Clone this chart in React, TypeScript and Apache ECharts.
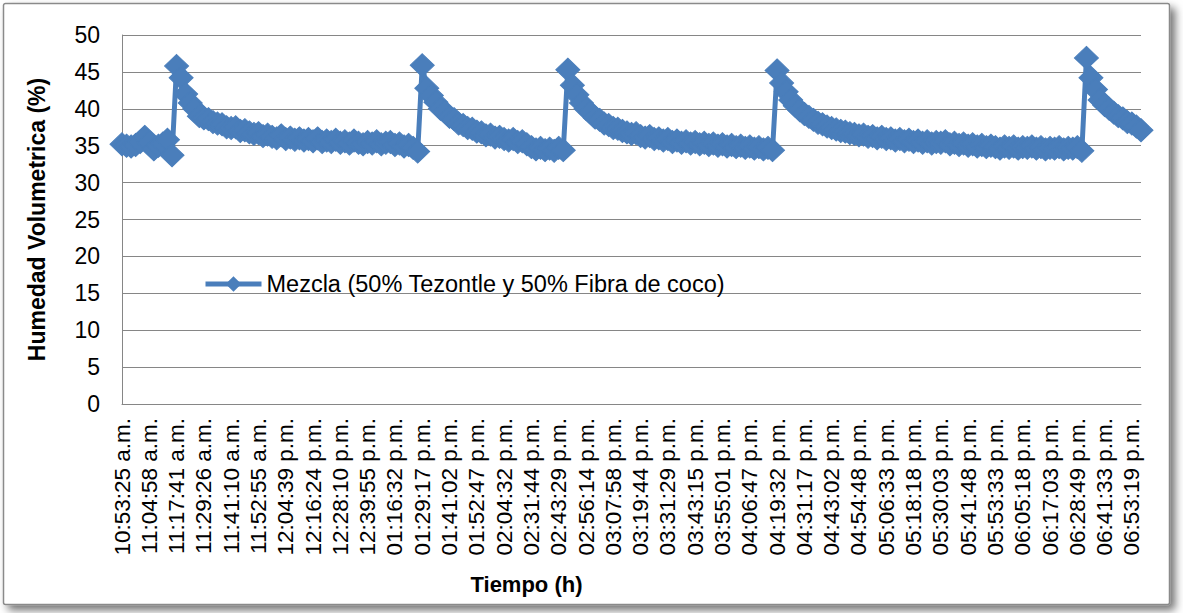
import React, { useEffect, useRef } from 'react';
import * as echarts from 'echarts';

const timeLabels = [
  '10:53:25 a.m.', '11:04:58 a.m.', '11:17:41 a.m.', '11:29:26 a.m.', '11:41:10 a.m.',
  '11:52:55 a.m.', '12:04:39 p.m.', '12:16:24 p.m.', '12:28:10 p.m.', '12:39:55 p.m.',
  '01:16:32 p.m.', '01:29:17 p.m.', '01:41:02 p.m.', '01:52:47 p.m.', '02:04:32 p.m.',
  '02:31:44 p.m.', '02:43:29 p.m.', '02:56:14 p.m.', '03:07:58 p.m.', '03:19:44 p.m.',
  '03:31:29 p.m.', '03:43:15 p.m.', '03:55:01 p.m.', '04:06:47 p.m.', '04:19:32 p.m.',
  '04:31:17 p.m.', '04:43:02 p.m.', '04:54:48 p.m.', '05:06:33 p.m.', '05:18:18 p.m.',
  '05:30:03 p.m.', '05:41:48 p.m.', '05:53:33 p.m.', '06:05:18 p.m.', '06:17:03 p.m.',
  '06:28:49 p.m.', '06:41:33 p.m.', '06:53:19 p.m.',
];

// one reading every sixth of a label step
const samplesPerLabel = 6;

const humedad = [
  35.2, 35.0, 34.9, 35.1, 35.5, 36.2, 35.4, 34.5, 35.0, 35.3, 35.8, 33.7,
  45.8, 44.2, 42.0, 40.8, 40.0, 39.0, 38.7, 38.6, 38.2, 38.0,
  37.9, 37.5, 37.4, 37.5, 37.0, 37.1, 36.8, 36.6, 36.7, 36.3,
  36.5, 36.2, 36.0, 36.4, 35.9, 36.1, 35.8, 36.0, 35.7, 35.9,
  35.6, 36.0, 35.5, 35.7, 35.5, 35.8, 35.4, 35.6, 35.3, 35.7,
  35.4, 35.2, 35.5, 35.3, 35.6, 35.2, 35.4, 35.5, 35.1, 35.3,
  34.9, 35.1, 34.7, 34.2,
  45.9, 42.8, 41.8, 40.9, 40.0, 39.6, 38.9, 38.6, 38.0, 37.8,
  37.4, 37.3, 36.9, 36.8, 36.4, 36.5, 36.1, 36.2, 35.9, 35.7,
  35.9, 35.5, 35.6, 35.2, 34.8, 34.5, 34.7, 34.4, 34.6, 34.3,
  34.7, 34.4,
  45.3, 43.2, 41.9, 40.8, 40.0, 39.5, 38.8, 38.5, 38.0, 37.8,
  37.4, 37.3, 37.0, 36.8, 36.6, 36.7, 36.3, 36.1, 36.3, 35.9,
  36.0, 35.7, 35.9, 35.5, 35.7, 35.4, 35.6, 35.3, 35.5, 35.2,
  35.4, 35.1, 35.3, 35.0, 35.2, 34.9, 35.1, 34.8, 35.0, 34.7,
  34.9, 34.6, 34.8, 34.5, 34.7, 34.4,
  45.2, 43.5, 42.3, 41.2, 40.4, 39.8, 39.3, 38.9, 38.5, 38.1,
  37.9, 37.6, 37.4, 37.2, 37.0, 36.9, 36.7, 36.6, 36.4, 36.5,
  36.2, 36.3, 36.0, 36.2, 35.9, 36.0, 35.7, 35.9, 35.6, 35.8,
  35.5, 35.7, 35.4, 35.6, 35.3, 35.5, 35.4, 35.6, 35.2, 35.4,
  35.1, 35.3, 35.0, 35.2, 34.9, 35.1, 34.8, 35.0, 34.8, 34.6,
  34.9, 34.7, 34.9, 34.6, 34.8, 34.7, 34.9, 34.6, 34.8, 34.5,
  34.7, 34.6, 34.8, 34.5, 34.7, 34.6, 34.8, 34.3,
  46.9, 44.2, 42.6, 41.2, 40.5, 40.0, 39.5, 39.0, 38.7, 38.2,
  38.0, 37.6, 37.1,
];

const seriesName = 'Mezcla (50% Tezontle y 50% Fibra de coco)';
const yAxisTitle = 'Humedad Volumetrica (%)';
const xAxisTitle = 'Tiempo (h)';

const FONT = '"Liberation Sans", Arial, sans-serif';
const BLUE = '#4A7EBB';
const GRAY = '#868686';

export default function App() {
  const ref = useRef<HTMLDivElement>(null);

  useEffect(() => {
    if (!ref.current) return;
    const chart = echarts.init(ref.current, null, { renderer: 'svg' });
    const categories = humedad.map((_, i) =>
      i % samplesPerLabel === 0 ? timeLabels[i / samplesPerLabel] ?? '' : ''
    );

    chart.setOption({
      animation: false,
      backgroundColor: '#ffffff',
      textStyle: { fontFamily: FONT },
      graphic: [
        {
          type: 'rect',
          z: -100,
          silent: true,
          shape: { x: 3.5, y: 3.5, width: 1166, height: 601, r: 2 },
          style: {
            fill: '#ffffff',
            stroke: '#8a8a8a',
            lineWidth: 1.5,
            shadowBlur: 8,
            shadowOffsetX: 5,
            shadowOffsetY: 5,
            shadowColor: 'rgba(0,0,0,0.55)',
          },
        },
      ],
      grid: { left: 122, right: 42, top: 35, bottom: 209, containLabel: false },
      legend: {
        left: 203,
        top: 272,
        padding: 0,
        itemWidth: 56,
        itemHeight: 16,
        itemGap: 4,
        lineStyle: { width: 5 },
        textStyle: { fontSize: 23.5, color: '#000', fontFamily: FONT },
        data: [seriesName],
      },
      xAxis: {
        type: 'category',
        data: categories,
        boundaryGap: false,
        name: xAxisTitle,
        nameLocation: 'middle',
        nameGap: 169,
        nameTextStyle: {
          fontSize: 22,
          fontWeight: 'bold',
          color: '#000',
          fontFamily: FONT,
          padding: [0, 210, 0, 0],
        },
        axisLine: { show: true, lineStyle: { color: GRAY, width: 1 } },
        axisTick: { show: false },
        splitLine: { show: false },
        axisLabel: {
          interval: samplesPerLabel - 1,
          rotate: 90,
          margin: 14,
          fontSize: 22.5,
          color: '#000',
          fontFamily: FONT,
        },
      },
      yAxis: {
        type: 'value',
        min: 0,
        max: 50,
        interval: 5,
        name: yAxisTitle,
        nameLocation: 'middle',
        nameGap: 74,
        nameTextStyle: { fontSize: 23, fontWeight: 'bold', color: '#000', fontFamily: FONT },
        axisLine: { show: true, lineStyle: { color: GRAY, width: 1 } },
        axisTick: { show: false },
        splitLine: { show: true, lineStyle: { color: GRAY, width: 1 } },
        axisLabel: { margin: 22, fontSize: 23, color: '#000', fontFamily: FONT },
      },
      series: [
        {
          type: 'line',
          name: seriesName,
          data: humedad,
          symbol: 'diamond',
          symbolSize: [24, 23],
          showAllSymbol: true,
          lineStyle: { color: BLUE, width: 5 },
          itemStyle: { color: BLUE, borderColor: BLUE, borderWidth: 1 },
        },
      ],
    });

    return () => chart.dispose();
  }, []);

  return (
    <div
      ref={ref}
      style={{ position: 'absolute', left: 0, top: 0, width: 1183, height: 613 }}
    />
  );
}
